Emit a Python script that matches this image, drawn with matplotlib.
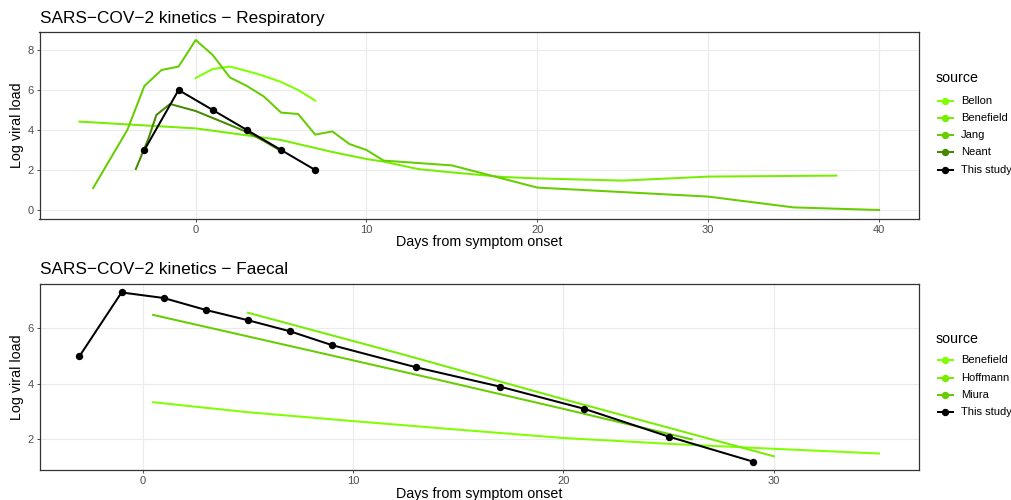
import matplotlib
matplotlib.use("Agg")
import matplotlib.pyplot as plt
from matplotlib.lines import Line2D

plt.rcParams['font.family'] = ['Liberation Sans', 'DejaVu Sans']

# ---------------- Respiratory data ----------------
resp_sources = ["Bellon", "Benefield", "Jang", "Neant", "This study"]
resp_colors = ["#7FFF00", "#76EE00", "#66CD00", "#458B00", "#000000"]

bellon_x = [0, 1, 2, 3, 4, 5, 6, 7]
bellon_y = [6.6, 7.05, 7.17, 6.95, 6.7, 6.4, 6.0, 5.47]

benefield_r_x = [-6.8, -3, 0, 2, 5, 8, 10, 11, 13, 15, 18, 20, 25, 30, 37.5]
benefield_r_y = [4.42, 4.23, 4.08, 3.85, 3.5, 2.9, 2.55, 2.42, 2.05, 1.88, 1.65, 1.58, 1.47, 1.67, 1.72]

jang_x = [-6, -5, -4, -3, -2, -1, 0, 1, 2, 3, 4, 5, 6, 7, 8, 9, 10, 11, 15, 20, 30, 35, 40]
jang_y = [1.1, 2.55, 4.0, 6.2, 7.0, 7.17, 8.5, 7.75, 6.63, 6.2, 5.67, 4.87, 4.8, 3.77, 3.93,
          3.3, 3.0, 2.47, 2.23, 1.12, 0.67, 0.13, 0.0]

neant_x = [-3.5, -2.75, -2.3, -1.5, 0, 1, 2, 3, 4, 5]
neant_y = [2.05, 3.6, 4.75, 5.3, 4.95, 4.6, 4.25, 3.9, 3.45, 2.95]

study_r_x = [-3, -1, 1, 3, 5, 7]
study_r_y = [3, 6, 5, 4, 3, 2]

# ---------------- Faecal data ----------------
faec_sources = ["Benefield", "Hoffmann", "Miura", "This study"]
faec_colors = ["#7FFF00", "#76EE00", "#66CD00", "#000000"]

benefield_f_x = [0.5, 5, 10, 15, 20, 25, 30, 35]
benefield_f_y = [3.34, 2.98, 2.66, 2.35, 2.05, 1.84, 1.66, 1.49]

hoffmann_x = [5, 12.3, 20, 25, 30]
hoffmann_y = [6.57, 5.08, 3.45, 2.42, 1.39]

miura_x = [0.5, 7, 13.65, 20, 26.1]
miura_y = [6.49, 5.37, 4.22, 3.1, 2.0]

study_f_x = [-3, -1, 1, 3, 5, 7, 9, 13, 17, 21, 25, 29]
study_f_y = [5, 7.3, 7.1, 6.67, 6.3, 5.9, 5.4, 4.6, 3.9, 3.1, 2.1, 1.2]

x_ticks_r = [0, 10, 20, 30, 40]
y_ticks_r = [0, 2, 4, 6, 8]
x_ticks_f = [0, 10, 20, 30]
y_ticks_f = [2, 4, 6]

W, H = 1011, 500
fig = plt.figure(figsize=(W / 100, H / 100), dpi=100)

def px_axes(l, t, r, b):
    return fig.add_axes([l / W, 1 - b / H, (r - l) / W, (b - t) / H])

LW = 1.45
grey30 = "#4D4D4D"
grey20 = "#333333"
TITLE_FS = 12.4
AXTITLE_FS = 10.3
TICK_FS = 8.0
LEG_FS = 8.0

def style(ax, xt, yt):
    ax.set_xticks(xt)
    ax.set_yticks(yt)
    ax.grid(True, color="#EBEBEB", lw=0.8)
    ax.set_axisbelow(True)
    for s in ax.spines.values():
        s.set_color(grey20)
        s.set_linewidth(0.9)
    ax.tick_params(length=2.45, width=0.6, color=grey20, pad=1.9,
                   labelsize=TICK_FS, labelcolor=grey30)

def expand(lo, hi, f=0.05):
    d = (hi - lo) * f
    return lo - d, hi + d

# ---- Top panel ----
ax1 = px_axes(39.5, 31.5, 919, 218.5)
resp_series = [(bellon_x, bellon_y), (benefield_r_x, benefield_r_y), (jang_x, jang_y),
               (neant_x, neant_y), (study_r_x, study_r_y)]
for (xs, ys), name, c in zip(resp_series, resp_sources, resp_colors):
    if name == "This study":
        ax1.plot(xs, ys, color=c, lw=LW, marker="o", ms=4.3, zorder=5)
    else:
        ax1.plot(xs, ys, color=c, lw=LW, zorder=3)
allx = sum([list(s[0]) for s in resp_series], [])
ally = sum([list(s[1]) for s in resp_series], [])
ax1.set_xlim(*expand(min(allx), max(allx)))
ax1.set_ylim(*expand(min(ally), max(ally)))
style(ax1, x_ticks_r, y_ticks_r)

# ---- Bottom panel ----
ax2 = px_axes(39.5, 284, 919, 470)
faec_series = [(benefield_f_x, benefield_f_y), (hoffmann_x, hoffmann_y),
               (miura_x, miura_y), (study_f_x, study_f_y)]
for (xs, ys), name, c in zip(faec_series, faec_sources, faec_colors):
    if name == "This study":
        ax2.plot(xs, ys, color=c, lw=LW, marker="o", ms=4.3, zorder=5)
    else:
        ax2.plot(xs, ys, color=c, lw=LW, zorder=3)
allx = sum([list(s[0]) for s in faec_series], [])
ally = sum([list(s[1]) for s in faec_series], [])
ax2.set_xlim(*expand(min(allx), max(allx)))
ax2.set_ylim(*expand(min(ally), max(ally)))
style(ax2, x_ticks_f, y_ticks_f)

# ---- Titles and axis labels ----
fig.text(40 / W, 1 - 23.5 / H, "SARS\u2212COV\u22122 kinetics \u2212 Respiratory",
         fontsize=TITLE_FS, va="baseline", ha="left", color="black")
fig.text(40 / W, 1 - 274 / H, "SARS\u2212COV\u22122 kinetics \u2212 Faecal",
         fontsize=TITLE_FS, va="baseline", ha="left", color="black")
for yc, xl_y in [((31.5 + 218.5) / 2, 242), ((284 + 470) / 2, 494)]:
    fig.text(17 / W, 1 - yc / H, "Log viral load", rotation=90, fontsize=AXTITLE_FS,
             va="center", ha="center")
    fig.text(479 / W, 1 - xl_y / H, "Days from symptom onset", fontsize=AXTITLE_FS,
             va="center", ha="center")

# ---- Legends (drawn manually, ggplot style) ----
def legend(title_y, first_y, names, colors, step=17.3):
    fig.text(936 / W, 1 - title_y / H, "source", fontsize=AXTITLE_FS, va="center", ha="left")
    for i, (n, c) in enumerate(zip(names, colors)):
        y = 1 - (first_y + i * step) / H
        fig.add_artist(Line2D([937.5 / W, 952.5 / W], [y, y], color=c, lw=LW,
                              transform=fig.transFigure))
        fig.add_artist(Line2D([945 / W], [y], color=c, marker="o", ms=4.3, lw=0,
                              transform=fig.transFigure))
        fig.text(961 / W, y, n, fontsize=LEG_FS, va="center", ha="left")

legend(78, 100.5, resp_sources, resp_colors)
legend(339, 360.3, faec_sources, faec_colors)

fig.savefig("out.png", dpi=100)
